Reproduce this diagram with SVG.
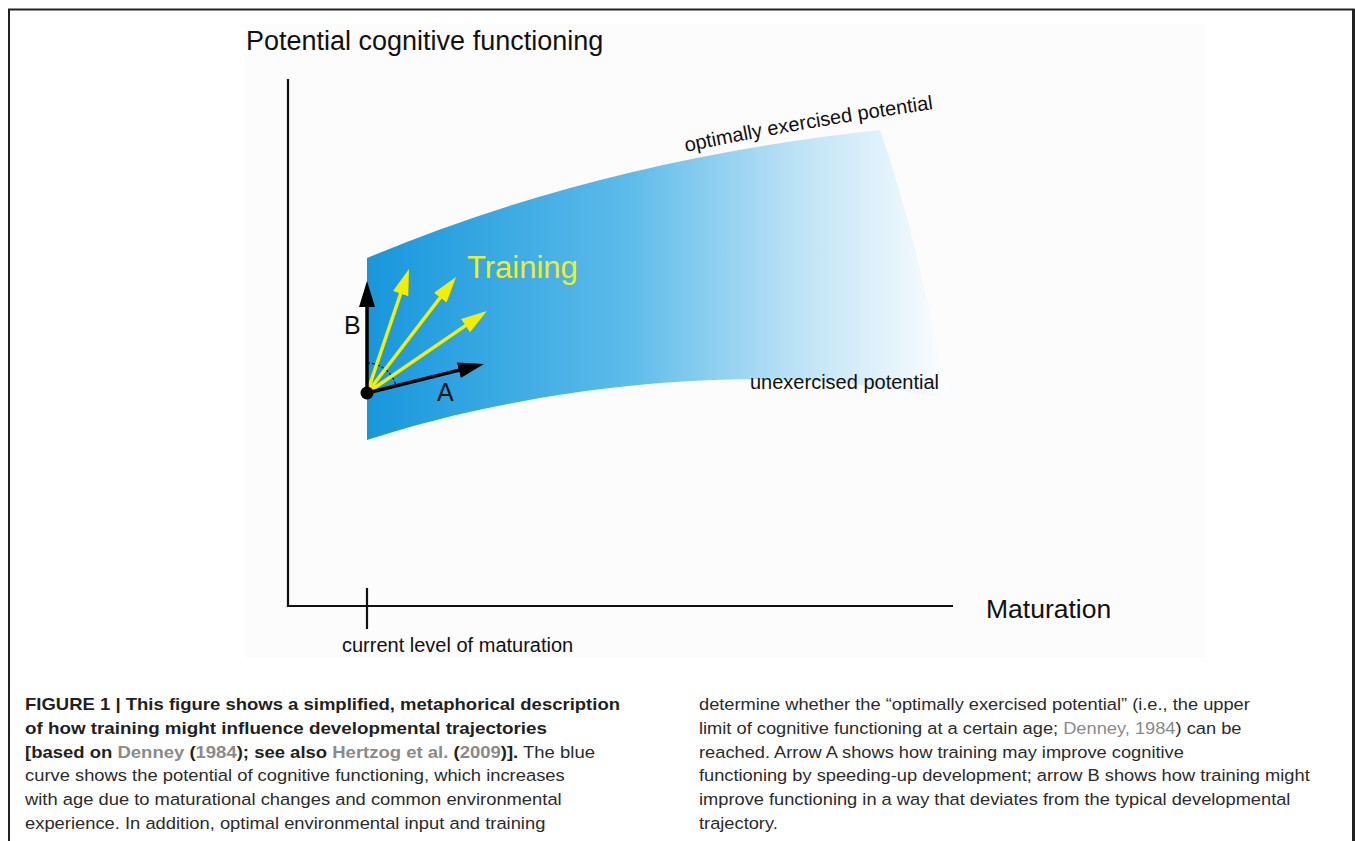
<svg xmlns="http://www.w3.org/2000/svg" width="1355" height="841" viewBox="0 0 1355 841">
<defs>
<style>
.ax{stroke:#111;stroke-width:2.2;fill:none}
.lbl{font-family:"Liberation Sans",Arial,sans-serif;fill:#111}
.cap{font-family:"Liberation Sans",Arial,sans-serif;font-size:17px;fill:#2b2b2b}
.b{font-weight:bold;fill:#231f20}
.g{fill:#8a8a8a}
.blk{stroke:#000;stroke-width:3.5;fill:none}
.yel{stroke:#f4ef00;stroke-width:3.5;fill:none}
</style>
<linearGradient id="band" gradientUnits="userSpaceOnUse" x1="367" y1="0" x2="945" y2="0">
<stop offset="0" stop-color="#1797dc"/>
<stop offset="0.45" stop-color="#5cbbea"/>
<stop offset="0.75" stop-color="#bfe3f6"/>
<stop offset="1" stop-color="#fbfdff"/>
</linearGradient>
<marker id="hb" markerUnits="userSpaceOnUse" markerWidth="28" markerHeight="18" refX="12" refY="8" orient="auto">
<path d="M0,0 L26,8 L0,16 z" fill="#000"/>
</marker>
<marker id="hy" markerUnits="userSpaceOnUse" markerWidth="28" markerHeight="18" refX="12" refY="8" orient="auto">
<path d="M0,0 L26,8 L0,16 z" fill="#f4ef00"/>
</marker>
<path id="optPath" d="M686,152 Q810,126 942,108"/>
</defs>
<rect width="1355" height="841" fill="#fff"/>
<rect x="245" y="24" width="960" height="634" fill="#fcfcfc"/>
<g id="frame">
<path d="M9,841 V9.5 H1353.5 V841" fill="none" stroke="#222" stroke-width="2"/>
<line x1="1353.5" y1="9" x2="1353.5" y2="841" stroke="#222" stroke-width="3"/>
</g>
<g id="axes">
<path class="ax" d="M288,79 V606 H953"/>
<line class="ax" x1="367" y1="588" x2="367" y2="629"/>
<text class="lbl" x="246" y="50" font-size="27">Potential cognitive functioning</text>
<text class="lbl" x="986" y="618" font-size="26.5">Maturation</text>
<text class="lbl" x="342" y="652" font-size="20">current level of maturation</text>
</g>
<g id="potential-band">
<path d="M367,258 Q600,160 880,130 Q915,230 948,400 C760,355 520,390 367,440 Z" fill="url(#band)"/>
<text class="lbl" font-size="20"><textPath href="#optPath">optimally exercised potential</textPath></text>
<text class="lbl" x="750" y="389" font-size="20">unexercised potential</text>
</g>
<g id="connectors">
<path d="M367,363 A30,30 0 0 1 396,386" fill="none" stroke="#000" stroke-width="1.2" stroke-dasharray="3,2"/>
<line class="yel" x1="367" y1="393" x2="404.5" y2="282.3" marker-end="url(#hy)"/>
<line class="yel" x1="367" y1="393" x2="447.5" y2="288.1" marker-end="url(#hy)"/>
<line class="yel" x1="367" y1="393" x2="475.4" y2="318.9" marker-end="url(#hy)"/>
<line class="blk" x1="367" y1="393" x2="367" y2="295" marker-end="url(#hb)"/>
<line class="blk" x1="367" y1="393" x2="470.4" y2="367.4" marker-end="url(#hb)"/>
<circle cx="367" cy="393" r="6.5" fill="#000"/>
</g>
<g id="arrow-labels">
<text class="lbl" x="344" y="334" font-size="25">B</text>
<text class="lbl" x="437" y="401" font-size="25">A</text>
<text x="467" y="278" font-size="31" font-family="Liberation Sans,Arial,sans-serif" fill="#f2ee1c">Training</text>
</g>
<g id="caption">
<text class="cap b" x="25" y="710" textLength="595" lengthAdjust="spacingAndGlyphs">FIGURE 1 | This figure shows a simplified, metaphorical description</text>
<text class="cap b" x="25" y="733.8" textLength="522" lengthAdjust="spacingAndGlyphs">of how training might influence developmental trajectories</text>
<text class="cap" x="25" y="757.6" textLength="570" lengthAdjust="spacingAndGlyphs"><tspan class="b">[based on </tspan><tspan class="b g">Denney</tspan><tspan class="b"> (</tspan><tspan class="b g">1984</tspan><tspan class="b">); see also </tspan><tspan class="b g">Hertzog et al.</tspan><tspan class="b"> (</tspan><tspan class="b g">2009</tspan><tspan class="b">)].</tspan> The blue</text>
<g transform="translate(25,0) scale(1.08,1)">
<text class="cap" x="0" y="781.4">curve shows the potential of cognitive functioning, which increases</text>
<text class="cap" x="0" y="805.2">with age due to maturational changes and common environmental</text>
<text class="cap" x="0" y="829">experience. In addition, optimal environmental input and training</text>
</g>
<g transform="translate(699,0) scale(1.075,1)">
<text class="cap" x="0" y="710">determine whether the “optimally exercised potential” (i.e., the upper</text>
<text class="cap" x="0" y="733.8">limit of cognitive functioning at a certain age; <tspan class="g">Denney, 1984</tspan>) can be</text>
<text class="cap" x="0" y="757.6">reached. Arrow A shows how training may improve cognitive</text>
<text class="cap" x="0" y="781.4">functioning by speeding-up development; arrow B shows how training might</text>
<text class="cap" x="0" y="805.2">improve functioning in a way that deviates from the typical developmental</text>
<text class="cap" x="0" y="829">trajectory.</text>
</g>
</g>
</svg>
